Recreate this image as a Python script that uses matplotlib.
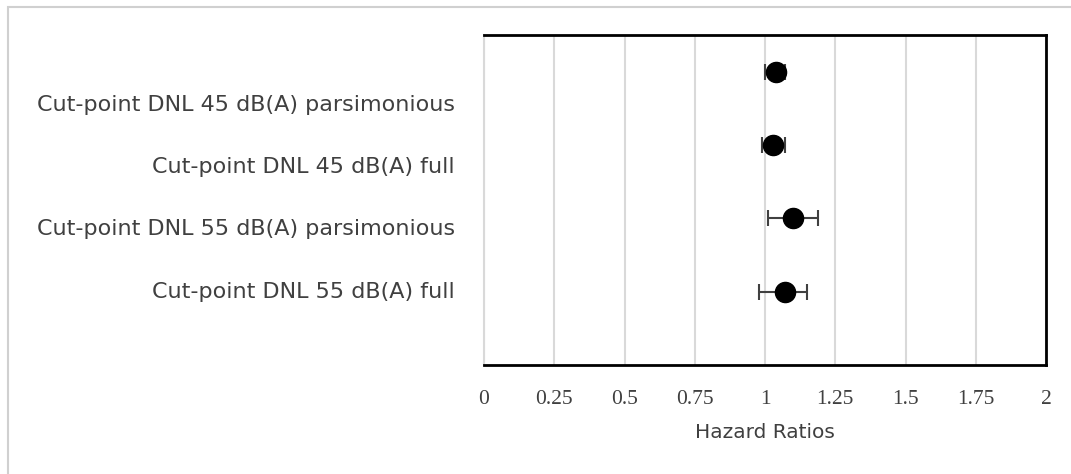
import numpy as np
from matplotlib import pyplot as plt
from matplotlib.patches import Rectangle

# 模型名称与风险比
models = ["Cut-point DNL 45 dB(A) parsimonious",
          "Cut-point DNL 45 dB(A) full",
          "Cut-point DNL 55 dB(A) parsimonious",
          "Cut-point DNL 55 dB(A) full"]
hr = [1.04, 1.03, 1.10, 1.07]
lower = [1.00, 0.99, 1.01, 0.98]
upper = [1.07, 1.07, 1.19, 1.15]
ypos = [4, 3, 2, 1]
xticks = [0, 0.25, 0.5, 0.75, 1, 1.25, 1.5, 1.75, 2]
xticklabels = ["0", "0.25", "0.5", "0.75", "1", "1.25", "1.5", "1.75", "2"]

fig = plt.figure(figsize=(10.71, 4.74), dpi=100)
ax = fig.add_axes([0.4519, 0.23, 0.5248, 0.696])

# 误差线
hr = np.array(hr)
xerr = [hr - np.array(lower), np.array(upper) - hr]
ax.errorbar(hr, ypos, xerr=xerr, fmt="none", ecolor="#404040",
            elinewidth=1.5, capsize=5.5, capthick=1.5, zorder=3)
ax.plot(hr, ypos, "o", color="black", markersize=14.5, zorder=4)

ax.set_xlim(0, 2)
ax.set_ylim(0, 4.5)
ax.set_xticks(xticks)
ax.set_xticklabels(xticklabels, family="Liberation Serif", fontsize=15.5,
                   color="#404040")
ax.tick_params(axis="x", length=0, pad=18)
ax.set_yticks([])
ax.grid(axis="x", color="#d9d9d9", linewidth=1.5)
ax.set_axisbelow(True)
for s in ["top", "right", "bottom"]:
    ax.spines[s].set_linewidth(2)
    ax.spines[s].set_color("black")
ax.spines["left"].set_linewidth(1.5)
ax.spines["left"].set_color("#d9d9d9")
ax.set_xlabel("Hazard Ratios", fontsize=14.5, color="#404040", labelpad=10)

# 左侧模型标签
label_y = [3.55, 2.70, 1.85, 1.0]
for name, yy in zip(models, label_y):
    ax.text(-0.052, yy, name, ha="right", va="center", fontsize=16,
            color="#404040", transform=ax.get_yaxis_transform())

# 图表外框
fig.patches.append(Rectangle((8 / 1071, -0.1), 1.2, (474 - 7) / 474 + 0.1,
                             transform=fig.transFigure, fill=False,
                             edgecolor="#d0d0d0", linewidth=1.5))

fig.savefig("out.png", dpi=100)
